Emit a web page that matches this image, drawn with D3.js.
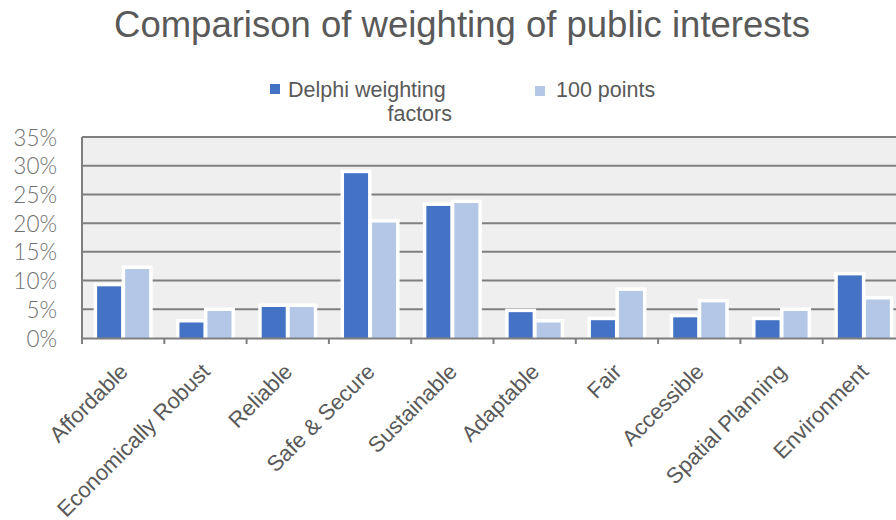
<!DOCTYPE html>
<html>
<head>
<meta charset="utf-8">
<script src="https://cdn.jsdelivr.net/npm/d3@7/dist/d3.min.js"></script>
<style>
  html, body { margin: 0; padding: 0; background: #ffffff; overflow: hidden; }
  svg { display: block; }
</style>
</head>
<body>
<svg id="chart" width="896" height="520"></svg>
<script>
const chartTitle = "Comparison of weighting of public interests";
const categories = ["Affordable", "Economically Robust", "Reliable", "Safe & Secure", "Sustainable",
                    "Adaptable", "Fair", "Accessible", "Spatial Planning", "Environment"];
const seriesNames = ["Delphi weighting factors", "100 points"];
const delphiValues = [9.0, 2.7, 5.4, 28.7, 23.0, 4.5, 3.1, 3.6, 3.1, 10.9];
const pointsValues = [12.0, 4.7, 5.4, 20.1, 23.5, 2.7, 8.2, 6.2, 4.7, 6.7];
const yTickValues = [0, 5, 10, 15, 20, 25, 30, 35];

const colors = ["#4472C4", "#B4C7E7"];
const svg = d3.select("#chart");

const plot = { left: 82, right: 905, top: 137, bottom: 338 };

const x0 = d3.scaleBand().domain(categories).range([plot.left, plot.right]).padding(0);
const x1 = d3.scaleBand().domain(seriesNames).range([0, x0.bandwidth()])
  .paddingInner(0.143).paddingOuter(0.54);
const y = d3.scaleLinear().domain([0, 35]).range([plot.bottom, plot.top]);

const rows = categories.map((c, i) => ({ cat: c, vals: [
  { s: seriesNames[0], v: delphiValues[i], k: 0 },
  { s: seriesNames[1], v: pointsValues[i], k: 1 } ] }));

// title
svg.append("text")
  .attr("x", 462).attr("y", 37)
  .attr("text-anchor", "middle")
  .attr("font-family", "'Liberation Sans', Arial, sans-serif")
  .attr("font-size", 36.5)
  .attr("fill", "#595959")
  .text(chartTitle);

// plot background
svg.append("rect")
  .attr("x", plot.left).attr("y", plot.top)
  .attr("width", plot.right - plot.left).attr("height", plot.bottom - plot.top)
  .attr("fill", "#efefef");

// gridlines
svg.append("g").selectAll("line")
  .data(yTickValues.filter(d => d > 0))
  .join("line")
  .attr("x1", plot.left).attr("x2", plot.right)
  .attr("y1", d => y(d)).attr("y2", d => y(d))
  .attr("stroke", "#7f7f7f").attr("stroke-width", 2);

// bars
const groups = svg.append("g").selectAll("g")
  .data(rows).join("g")
  .attr("transform", d => `translate(${x0(d.cat)},0)`);
groups.selectAll("rect")
  .data(d => d.vals).join("rect")
  .attr("x", d => x1(d.s))
  .attr("width", x1.bandwidth())
  .attr("y", d => y(d.v))
  .attr("height", d => y(0) - y(d.v))
  .attr("fill", d => colors[d.k])
  .attr("stroke", "#ffffff")
  .attr("stroke-width", 7)
  .attr("paint-order", "stroke");

// left axis line
svg.append("line")
  .attr("x1", plot.left).attr("x2", plot.left)
  .attr("y1", plot.top).attr("y2", plot.bottom)
  .attr("stroke", "#7f7f7f").attr("stroke-width", 2);

// bottom axis
const xAxis = d3.axisBottom(x0).tickSize(0).tickFormat("");
const xg = svg.append("g").attr("transform", `translate(0,${plot.bottom})`).call(xAxis);
xg.select(".domain").attr("stroke", "#7f7f7f").attr("stroke-width", 2);
const boundaries = categories.map(c => x0(c)).concat([x0(categories[categories.length - 1]) + x0.bandwidth()]);
xg.selectAll(".bnd").data(boundaries).join("line")
  .attr("class", "bnd")
  .attr("x1", d => d).attr("x2", d => d)
  .attr("y1", 0).attr("y2", 6)
  .attr("stroke", "#7f7f7f").attr("stroke-width", 2);

// x labels
svg.append("g").selectAll("text")
  .data(categories).join("text")
  .attr("transform", d => `translate(${x0(d) + x0.bandwidth() / 2 + 6},373) rotate(-45)`)
  .attr("text-anchor", "end")
  .attr("font-family", "'Liberation Sans', Arial, sans-serif")
  .attr("font-size", 22)
  .attr("fill", "#595959")
  .text(d => d);

// y labels
const yAxis = d3.axisLeft(y).tickValues(yTickValues).tickSize(0).tickFormat(d => d + "%");
const yg = svg.append("g").attr("transform", `translate(57,0)`).call(yAxis);
yg.select(".domain").remove();
yg.selectAll("text")
  .attr("x", 0)
  .attr("dy", "0.36em")
  .attr("font-family", "Lato, 'Open Sans', sans-serif")
  .attr("font-weight", 300)
  .attr("font-size", 22.5)
  .attr("fill", "#707070");

// legend
const legend = svg.append("g");
const legendItems = [
  { k: 0, sq: [270, 84], lines: [{ t: "Delphi weighting", x: 288, y: 97, a: "start" }, { t: "factors", x: 452, y: 121, a: "end" }] },
  { k: 1, sq: [535, 86], lines: [{ t: seriesNames[1], x: 556, y: 97, a: "start" }] }
];
legendItems.forEach(it => {
  legend.append("rect").attr("x", it.sq[0]).attr("y", it.sq[1])
    .attr("width", 10).attr("height", 10).attr("fill", colors[it.k]);
  it.lines.forEach(l => {
    legend.append("text").attr("x", l.x).attr("y", l.y)
      .attr("text-anchor", l.a)
      .attr("font-family", "'Liberation Sans', Arial, sans-serif")
      .attr("font-size", 21.5)
      .attr("fill", "#595959")
      .text(l.t);
  });
});
</script>
</body>
</html>
